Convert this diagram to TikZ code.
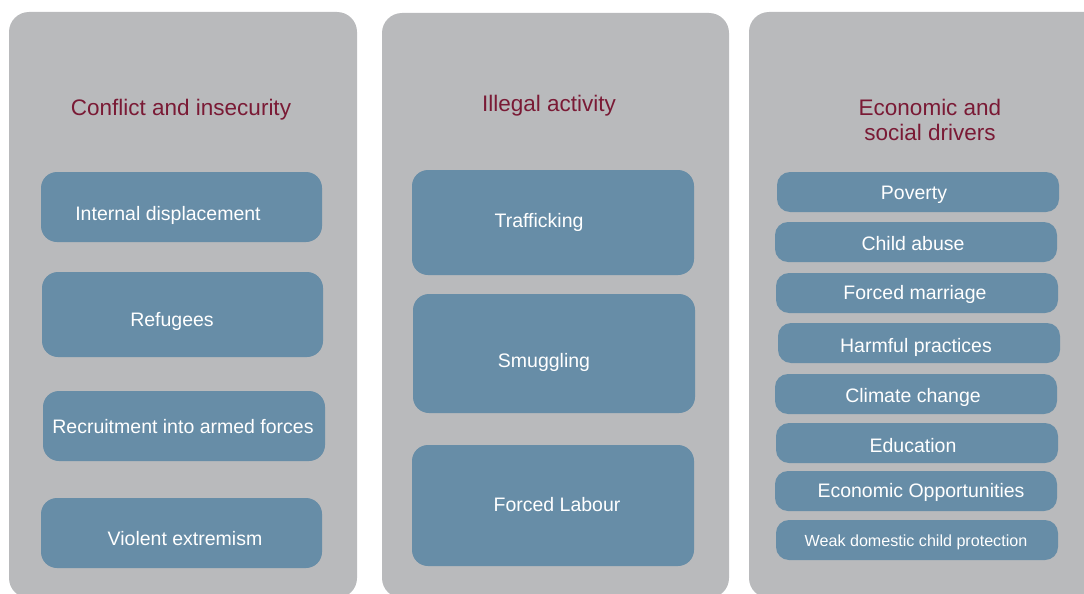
\documentclass[tikz,border=0pt]{standalone}
\usepackage{fontspec}
\setmainfont{Liberation Sans}
\definecolor{panelgrey}{HTML}{B9BABC}
\definecolor{boxblue}{HTML}{678DA7}
\definecolor{titlered}{HTML}{7A1A35}
\begin{document}
\begin{tikzpicture}[x=1pt,y=-1pt,
  panel/.style={fill=panelgrey, draw=none, rounded corners=20pt},
  bigbox/.style={fill=boxblue, draw=none, rounded corners=16pt},
  pill/.style={fill=boxblue, draw=none, rounded corners=13pt},
  ttl/.style={text=titlered, font=\fontsize{22.5}{25}\selectfont, align=center},
  lbl/.style={text=white, font=\fontsize{19.5}{22}\selectfont},
  small/.style={text=white, font=\fontsize{16.1}{19}\selectfont}]
\useasboundingbox (0,0) rectangle (1084,594);
\begin{scope}
\clip (0,0) rectangle (1084,594);
\fill[panel] (9,12) rectangle (357,598);
\fill[panel] (382,13) rectangle (729,598);
\fill[panel] (749,12) rectangle (1110,598);
\end{scope}
% titles
\node[ttl] (t1) at (181,110) {Conflict and insecurity};
\node[ttl] (t2) at (549,106) {Illegal activity};
\node[ttl] (t3) at (930,120) {Economic and\\social drivers};
% panel 1
\fill[bigbox] (41,172) rectangle (322,242);
\node[lbl] (a1) at (168,215) {Internal displacement};
\fill[bigbox] (42,272) rectangle (323,357);
\node[lbl] (a2) at (172,321) {Refugees};
\fill[bigbox] (43,391) rectangle (325,461);
\node[lbl] (a3) at (183,427) {Recruitment into armed forces};
\fill[bigbox] (41,498) rectangle (322,568);
\node[lbl] (a4) at (185,539) {Violent extremism};
% panel 2
\fill[bigbox] (412,170) rectangle (694,275);
\node[lbl] (b1) at (539,222) {Trafficking};
\fill[bigbox] (413,294) rectangle (695,413);
\node[lbl] (b2) at (544,362) {Smuggling};
\fill[bigbox] (412,445) rectangle (694,566);
\node[lbl] (b3) at (557,505) {Forced Labour};
% panel 3
\fill[pill] (777,172) rectangle (1059,212);
\node[lbl] (c1) at (914,195) {Poverty};
\fill[pill] (775,222) rectangle (1057,262);
\node[lbl] (c2) at (913,244) {Child abuse};
\fill[pill] (776,273) rectangle (1058,313);
\node[lbl] (c3) at (915,294) {Forced marriage};
\fill[pill] (778,323) rectangle (1060,363);
\node[lbl] (c4) at (916,347) {Harmful practices};
\fill[pill] (775,374) rectangle (1057,414);
\node[lbl] (c5) at (913,397) {Climate change};
\fill[pill] (776,423) rectangle (1058,463);
\node[lbl] (c6) at (913,446) {Education};
\fill[pill] (775,471) rectangle (1057,511);
\node[lbl] (c7) at (921,492) {Economic Opportunities};
\fill[pill] (776,520) rectangle (1058,560);
\node[small] (c8) at (916,542) {Weak domestic child protection};
\end{tikzpicture}
\end{document}
